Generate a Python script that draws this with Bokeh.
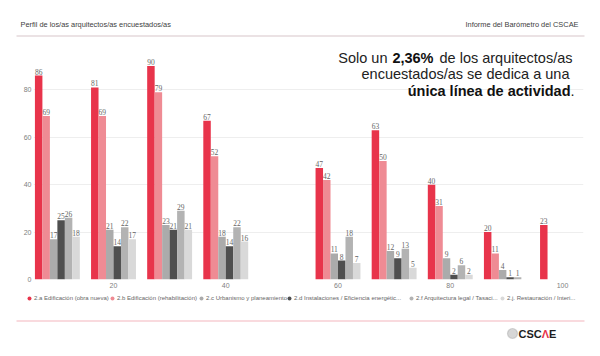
import numpy as np
from bokeh.plotting import figure
from bokeh.layouts import column
from bokeh.models import (Range1d, FixedTicker, Label, LabelSet, ColumnDataSource,
                          Legend, LegendItem, BoxAnnotation)
from bokeh.embed import file_html
from bokeh.resources import INLINE

# ---------------- data ----------------
groups = [10, 20, 30, 40, 60, 70, 80, 90, 100]
edif_obra_nueva = [86, 81, 90, 67, 47, 63, 40, 20, 23]
edif_rehab = [69, 69, 79, 52, 42, 50, 31, 11, 0]
urbanismo = [17, 21, 23, 18, 11, 12, 9, 4, 0]
instalaciones = [25, 14, 21, 14, 8, 9, 2, 1, 0]
arq_legal = [26, 22, 29, 22, 18, 13, 6, 1, 0]
restauracion = [18, 17, 21, 16, 7, 5, 2, 0, 0]
series_names = ["2.a Edificación (obra nueva)", "2.b Edificación (rehabilitación)",
                "2.c Urbanismo y planeamiento", "2.d Instalaciones / Eficiencia energétic...",
                "2.f Arquitectura legal / Tasaci...", "2.j. Restauración / Interi..."]
x_ticks = [20, 40, 60, 80, 100]
y_ticks = [0, 20, 40, 60, 80]

series_values = [edif_obra_nueva, edif_rehab, urbanismo, instalaciones, arq_legal, restauracion]
colors = ["#E8344B", "#EF8B94", "#ABABAB", "#4F4F4F", "#B3B3B3", "#D9D9D9"]

# layout: left edge (page px) of each legend entry
legend_left = [24, 107, 196, 284, 406, 497]

FONT = "Liberation Sans"
W = 600


def blank(height, y0, y1):
    """A decoration strip whose frame covers the whole canvas (data y = page y)."""
    f = figure(width=W, height=height, x_range=Range1d(0, W), y_range=Range1d(y1, y0),
               output_backend="svg", toolbar_location=None, title=None,
               x_axis_type=None, y_axis_type=None, frame_align=False,
               min_border=0, min_border_left=0, min_border_right=0,
               min_border_top=0, min_border_bottom=0)
    f.outline_line_color = None
    f.xgrid.visible = False
    f.ygrid.visible = False
    return f


def lab(fig, text, x, y, size, align="left", bold=False, color="#222222", units="data"):
    fig.add_layout(Label(x=x, y=y, x_units=units, y_units=units, text=text,
                         text_font=FONT, text_font_size=size, text_align=align,
                         text_baseline="middle", text_color=color,
                         text_font_style="bold" if bold else "normal"))


# ---------------- header strip (page y 0..40) ----------------
head = blank(40, 0, 40)
lab(head, "Perfil de los/as arquitectos/as encuestados/as", 20, 23.5, "7.4px", color="#404040")
lab(head, "Informe del Barómetro del CSCAE", 578, 23.5, "7.4px", align="right", color="#404040")
head.add_layout(BoxAnnotation(left=16, right=584, top=35, bottom=36,
                              fill_color="#D8C6CA", fill_alpha=1, line_color=None))

# ---------------- main chart (page y 40..292) ----------------
p = figure(width=W, height=252, x_range=Range1d(5.746, 103.74), y_range=Range1d(0, 100.8),
           output_backend="svg", toolbar_location=None, title=None, frame_align=False,
           min_border_left=33, min_border_right=17, min_border_top=0, min_border_bottom=13)
p.outline_line_color = None
p.background_fill_color = "white"

p.xaxis.ticker = FixedTicker(ticks=x_ticks)
p.yaxis.ticker = FixedTicker(ticks=y_ticks)
for ax in (p.xaxis[0], p.yaxis[0]):
    ax.axis_line_color = None
    ax.major_tick_line_color = None
    ax.minor_tick_line_color = None
    ax.major_tick_out = 0
    ax.major_label_text_font = FONT
    ax.major_label_text_font_size = "7px"
    ax.major_label_text_color = "#808080"
p.xaxis.major_label_standoff = 3
p.yaxis.major_label_standoff = 2
p.xgrid.visible = False
p.ygrid.grid_line_color = "#EEEEEE"

n = len(series_values)
bw = 8.0 / n
for i, (vals, col) in enumerate(zip(series_values, colors)):
    off = (i - (n - 1) / 2) * bw
    xs = [g + off for g in groups]
    src = ColumnDataSource(dict(x=xs, top=vals))
    p.vbar(x="x", top="top", width=bw, source=src, fill_color=col, line_color=None)
    lx = [x for x, v in zip(xs, vals) if v > 0]
    ly = [v for v in vals if v > 0]
    lsrc = ColumnDataSource(dict(x=lx, y=ly, t=[str(v) for v in ly]))
    p.add_layout(LabelSet(x="x", y="y", text="t", source=lsrc, text_align="center",
                          text_baseline="bottom", y_offset=1, text_font=FONT,
                          text_font_size="7.5px", text_color="#666666"))

# title inside the frame: frame-relative screen coords (page_x = 33 + sx ; page_y = 279 - sy)
T = "14.5px"
lab(p, "Solo un", 354, 222, T, align="right", units="screen")
lab(p, "2,36%", 400, 222, T, align="right", bold=True, color="#111111", units="screen")
lab(p, "de los arquitectos/as", 539, 222, T, align="right", units="screen")
lab(p, "encuestados/as se dedica a una", 536, 206, T, align="right", units="screen")
lab(p, "única línea de actividad", 537, 189, T, align="right", bold=True, color="#111111",
    units="screen")
lab(p, ".", 541, 189, T, align="right", units="screen")

# ---------------- legend + footer strip (page y 292..355) ----------------
foot = blank(63, 292, 355)
for name, col, lx in zip(series_names, colors, legend_left):
    r = foot.scatter(x=[np.nan], y=[np.nan], marker="circle", size=5,
                     fill_color=col, line_color=None)
    foot.add_layout(Legend(items=[LegendItem(label=name, renderers=[r])], location=(lx, 52),
                           orientation="horizontal", glyph_width=10, glyph_height=10,
                           label_height=10, label_width=10, label_standoff=0,
                           spacing=0, padding=0, margin=0,
                           border_line_color=None, background_fill_alpha=0,
                           label_text_font=FONT, label_text_font_size="6px",
                           label_text_color="#666666"))
foot.add_layout(BoxAnnotation(left=16, right=584, top=320, bottom=321,
                              fill_color="#F4B6BE", fill_alpha=1, line_color=None))
foot.add_layout(BoxAnnotation(left=507, right=517, top=328, bottom=338,
                              fill_color="#D6D6D6", fill_alpha=1, line_color="#8A8A8A",
                              line_width=1.2, border_radius=5))
lab(foot, "CSC", 518, 333, "11px", bold=True, color="#1E1E1E")
lab(foot, "Λ", 541.2, 333, "11px", bold=True, color="#E8344B")
lab(foot, "E", 548.5, 333, "11px", bold=True, color="#1E1E1E")

layout = column(head, p, foot, spacing=0)
open("out.html", "w").write(file_html(layout, INLINE))
